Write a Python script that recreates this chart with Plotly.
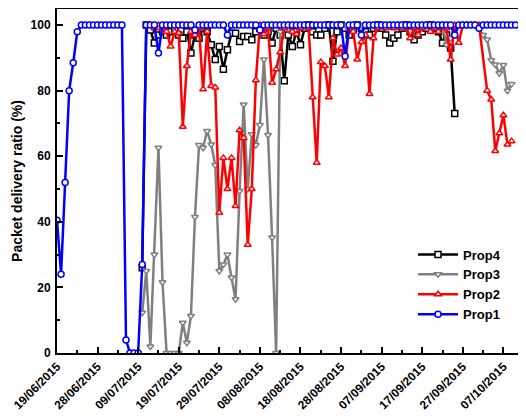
import pandas as pd
import plotly.graph_objects as go

# ---- data (daily samples) ----
prop1_start = "2015-06-19"
prop1 = [40.5, 24, 52, 80, 88.5, 98, 100, 100, 100, 100, 100, 100, 100, 100, 100, 100, 100,
         4, 0, 0, 0, 27, 100, 100, 100, 91.5, 100, 100, 100, 100, 100, 100, 100, 100,
         98.5, 100, 100, 100, 100, 100, 100, 100, 97, 100, 100, 100, 100, 100, 100, 100,
         98.5, 100, 100, 100, 100, 100, 100, 100, 100, 100, 100, 100, 100, 100, 100, 100,
         100, 100, 100, 100, 100, 90.5, 100, 100, 100, 97, 100, 100, 100, 100, 100, 100,
         100, 100, 100, 100, 100, 100, 100, 100, 100, 100, 100, 100, 100, 100, 100, 100,
         97, 100, 100, 100, 100, 100, 99, 100, 100, 100, 100, 100, 100, 100, 100, 100]

prop4_start = "2015-07-10"
prop4 = [26, 100, 98.5, 94.5, 97, 98, 97, 98, 99, 97, 96, 98, 91.5, 97, 96, 99, 98, 94,
         89.5, 93.5, 86.5, 92.5, 97.5, 97.5, 95, 96.5, 96.5, 95.5, 98, 99, 97, 98, 94.5,
         99, 97, 83, 97, 93.5, 98, 94, 99, 100, 98, 97, 97, 99, 100, 89, 98, 100, 99, 97,
         99, 100, 99, 98, 97, 99, 100, 99, 97, 94.5, 96, 97, 99, 100, 98, 95.5, 97, 98,
         99, 100, 99, 98, 94.5, 97, 93, 73]

prop3_start = "2015-07-10"
prop3 = [12.3, 25, 2, 30, 62.6, 21.6, 0, 0, 0, 0, 9.2, 3.1, 11.3, 41.5, 63.4, 62.6, 67.7,
         63.6, 57.3, 25, 27, 30, 23, 16.4, 49.4, 75.8, 50, 66.7, 63.4, 69.5, 89.5, 66.5,
         35.2, 0, 98, 100, 99, 100, 100, 100, 100, 100, 100, 100, 100, 100, 100, 100, 100,
         100, 100, 100, 100, 100, 100, 100, 100, 100, 100, 100, 100, 100, 100, 100, 100,
         100, 100, 100, 100, 100, 100, 100, 100, 100, 100, 94, 96, 100, 100, 100, 100, 100,
         100, 99, 97, 95.6, 89.3, 88, 85.3, 87.8, 80, 82]

prop2_start = "2015-07-13"
prop2 = [99, 100, 99, 98, 93.5, 98, 97.6, 69, 87.5, 98, 97, 99, 80.4, 98, 81.4, 81, 42.8,
         59.5, 50, 59.5, 44.8, 67.9, 65.6, 33, 50, 83.2, 100, 97.2, 99, 82.4, 86.5, 91.7,
         99, 100, 98, 97.2, 99, 100, 99, 78, 58, 88.7, 87.5, 78, 96, 91, 93, 87.5, 99, 98,
         89.5, 94.8, 97, 79, 96, 99, 100, 99, 100, 99, 100, 99, 100, 96, 99, 97, 99, 100,
         98, 99, 98, 100, 99, 89.5, 100, 94.6, 100, 100, 100, 100, 100, None, 80, 77.3,
         61.6, 67, 72.5, 63.6, 64.6]

tick_dates = ["2015-06-19", "2015-06-29", "2015-07-09", "2015-07-19", "2015-07-29",
              "2015-08-08", "2015-08-18", "2015-08-28", "2015-09-07", "2015-09-17",
              "2015-09-27", "2015-10-07"]
tick_labels = ["19/06/2015", "28/06/2015", "09/07/2015", "19/07/2015", "29/07/2015",
               "08/08/2015", "18/08/2015", "28/08/2015", "07/09/2015", "17/09/2015",
               "27/09/2015", "07/10/2015"]

def dates(start, vals):
    return pd.date_range(start, periods=len(vals), freq="D")

FONT = "Liberation Sans, Arial, sans-serif"
series = [
    ("Prop4", prop4_start, prop4, "black", "square"),
    ("Prop3", prop3_start, prop3, "#808080", "triangle-down"),
    ("Prop2", prop2_start, prop2, "#ff0000", "triangle-up"),
    ("Prop1", prop1_start, prop1, "#0000ff", "circle"),
]

fig = go.Figure()
for name, start, vals, color, sym in series:
    fig.add_trace(go.Scatter(
        x=dates(start, vals), y=vals, name=name, mode="lines+markers",
        connectgaps=True,
        line=dict(color=color, width=2.5),
        marker=dict(symbol=sym, size=6, color="white",
                    line=dict(color=color, width=1.5)),
    ))

fig.update_layout(
    width=518, height=412,
    margin=dict(l=49, r=3, t=1, b=67),
    paper_bgcolor="white", plot_bgcolor="white",
    font=dict(family=FONT, color="black"),
    showlegend=True,
    legend=dict(x=0.764, y=0.33, xanchor="left", yanchor="top",
                font=dict(size=13, weight="bold", family=FONT),
                bgcolor="rgba(0,0,0,0)", tracegroupgap=0, itemwidth=40),
)
fig.update_xaxes(
    type="date", range=["2015-06-19", "2015-10-11 20:00"], automargin=False,
    tickvals=tick_dates, ticktext=tick_labels, tickangle=-45,
    tickfont=dict(size=12, weight="bold", family=FONT),
    ticks="inside", ticklen=6, tickwidth=1.5, tickcolor="black",
    minor=dict(ticks="inside", ticklen=3, tickwidth=1.5, tickcolor="black",
               dtick=5 * 86400000, tick0="2015-06-19"),
    showline=True, linewidth=2, linecolor="black", mirror=True,
    showgrid=False, zeroline=False,
)
fig.update_yaxes(
    range=[0, 104.9], tickvals=[0, 20, 40, 60, 80, 100], automargin=False,
    tickfont=dict(size=12, weight="bold", family=FONT), ticklabelstandoff=2,
    ticks="inside", ticklen=6, tickwidth=1.5, tickcolor="black",
    minor=dict(ticks="inside", ticklen=3, tickwidth=1.5, tickcolor="black", dtick=10),
    showline=True, linewidth=2, linecolor="black", mirror=True,
    showgrid=False, zeroline=False,
    title=dict(text="Packet delivery ratio (%)", font=dict(size=14, weight="bold", family=FONT),
               standoff=5),
)
fig.write_html("out.html")
